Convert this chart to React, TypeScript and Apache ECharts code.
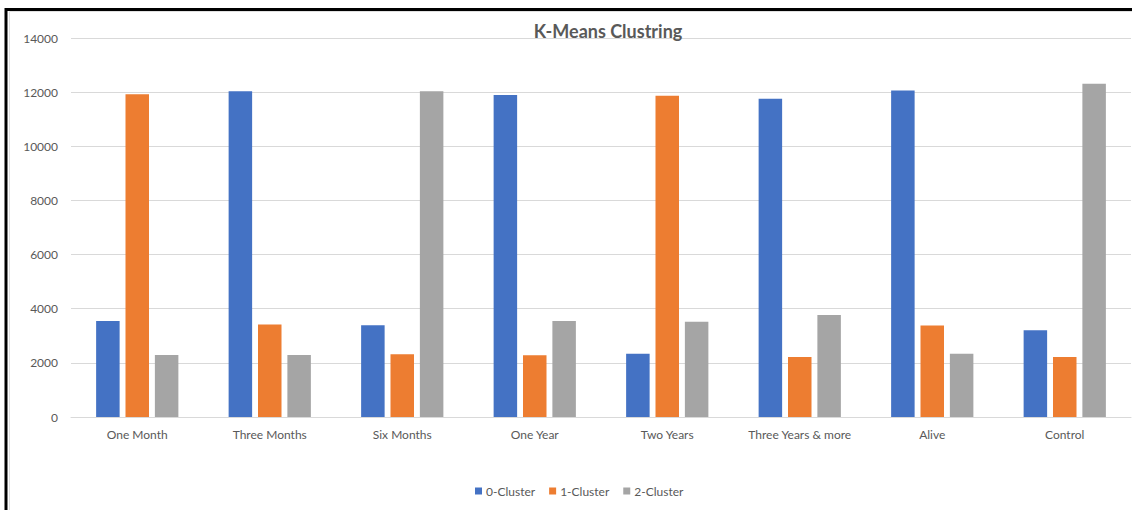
import React, { useEffect, useRef } from "react";
import * as echarts from "echarts";

// Cluster membership counts per survival group
const categories = [
  "One Month",
  "Three Months",
  "Six Months",
  "One Year",
  "Two Years",
  "Three Years & more",
  "Alive",
  "Control",
];
const cluster0 = [3550, 12030, 3390, 11890, 2340, 11760, 12060, 3200];
const cluster1 = [11920, 3420, 2320, 2280, 11870, 2220, 3380, 2220];
const cluster2 = [2290, 2290, 12030, 3550, 3520, 3770, 2340, 12310];
const seriesNames = ["0-Cluster", "1-Cluster", "2-Cluster"];
const colors = ["#4472C4", "#ED7D31", "#A5A5A5"];
const yTicks = { min: 0, max: 14000, interval: 2000 };

const FONT = "Lato, 'Open Sans', sans-serif";
const TEXT = "#595959";

export default function App() {
  const ref = useRef<HTMLDivElement>(null);

  useEffect(() => {
    if (!ref.current) return;
    const chart = echarts.init(ref.current, undefined, { renderer: "svg" });
    const values = [cluster0, cluster1, cluster2];
    chart.setOption({
      animation: false,
      backgroundColor: "#ffffff",
      title: {
        text: "K-Means Clustring",
        left: 603,
        textAlign: "center",
        top: 17,
        textStyle: { color: TEXT, fontFamily: FONT, fontSize: 18, fontWeight: "bold" },
      },
      legend: {
        data: seriesNames,
        left: 470,
        top: 480,
        itemWidth: 7,
        itemHeight: 7,
        itemGap: 14,
        icon: "rect",
        textStyle: { color: TEXT, fontFamily: FONT, fontSize: 12, padding: [0, 0, 0, -1] },
      },
      grid: { left: 71, right: 1, top: 38, bottom: 93, containLabel: false },
      xAxis: {
        type: "category",
        data: categories,
        axisLine: { show: true, lineStyle: { color: "#d9d9d9", width: 1 } },
        axisTick: { show: false },
        axisLabel: { color: TEXT, fontFamily: FONT, fontSize: 12, margin: 11, interval: 0 },
      },
      yAxis: {
        type: "value",
        min: yTicks.min,
        max: yTicks.max,
        interval: yTicks.interval,
        axisLine: { show: false },
        axisTick: { show: false },
        axisLabel: {
          color: TEXT,
          fontFamily: FONT,
          fontSize: 12,
          margin: 13,
          formatter: (v: number) => String(v),
        },
        splitLine: { lineStyle: { color: "#d9d9d9", width: 1 } },
      },
      series: seriesNames.map((name, i) => ({
        name,
        type: "bar",
        data: values[i],
        barWidth: 23.5,
        barGap: "25%",
        itemStyle: { color: colors[i] },
      })),
      graphic: [
        {
          type: "rect",
          shape: { x: 9.5, y: 11.5, width: 1200, height: 600 },
          style: { fill: "none", stroke: "#e0e0e0", lineWidth: 1 },
          silent: true,
        },
        {
          type: "rect",
          shape: { x: 6, y: 9.5, width: 1200, height: 600 },
          style: { fill: "none", stroke: "#000000", lineWidth: 3 },
          silent: true,
        },
      ],
    });
    return () => chart.dispose();
  }, []);

  return (
    <div
      ref={ref}
      style={{ position: "fixed", left: 0, top: 0, width: 1132, height: 510 }}
    />
  );
}
